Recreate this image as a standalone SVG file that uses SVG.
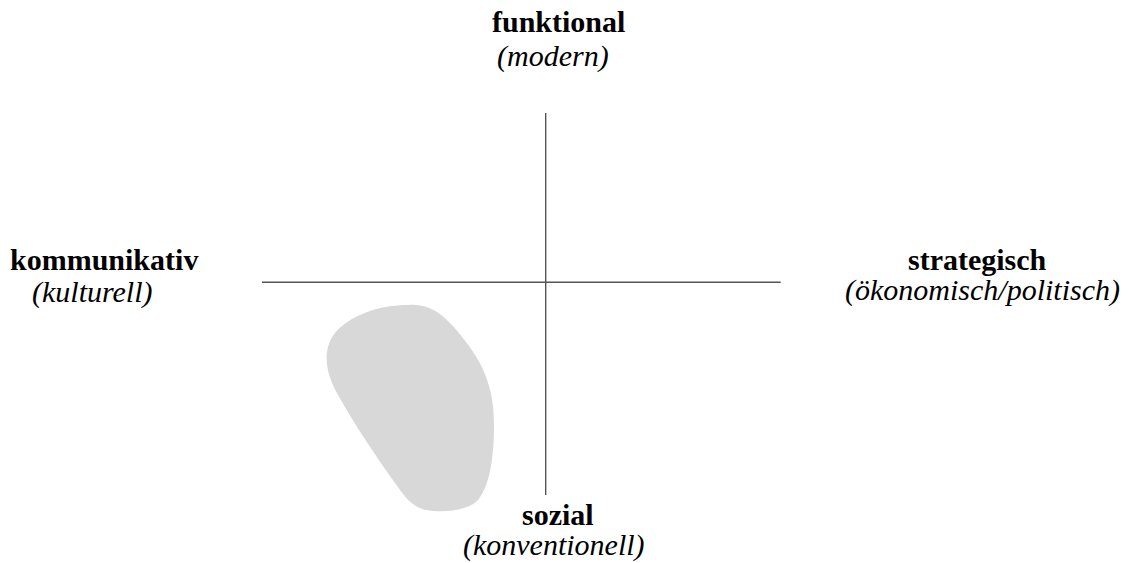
<svg xmlns="http://www.w3.org/2000/svg" width="1129" height="563" viewBox="0 0 1129 563">
<style>
text{font-family:'Liberation Serif','Times New Roman',Tinos,'DejaVu Serif',serif;font-size:30px;fill:#000}
.b{font-weight:bold}
.i{font-style:italic}
.ax{stroke:#555;stroke-width:1.4;fill:none}
</style>
<rect width="1129" height="563" fill="#fff"/>
<g id="blob">
<path d="M 408 305 C 432 303, 447 317, 466 342 C 486 368, 494 392, 494 425 C 494 460, 489 488, 477 501 C 466 511, 442 513, 426 510 C 412 507, 405 497, 395 483 C 375 455, 355 425, 338 395 C 325 372, 322 350, 335 333 C 350 315, 380 305, 408 305 Z" fill="#d8d8d8"/>
</g>
<g id="connectors">
<line class="ax" x1="262" y1="282.3" x2="780.7" y2="282.3"/>
<line class="ax" x1="545.7" y1="113" x2="545.7" y2="495"/>
</g>
<g id="top">
<text class="b" x="492" y="32" font-family="Liberation Serif">funktional</text>
<text class="i" x="497" y="66" font-family="Liberation Serif">(modern)</text>
</g>
<g id="left">
<text class="b" x="10" y="270" font-family="Liberation Serif">kommunikativ</text>
<text class="i" x="32" y="302" font-family="Liberation Serif">(kulturell)</text>
</g>
<g id="right">
<text class="b" x="908" y="270" font-family="Liberation Serif">strategisch</text>
<text class="i" x="845" y="300" font-family="Liberation Serif">(ökonomisch/politisch)</text>
</g>
<g id="bottom">
<text class="b" x="522" y="525" font-family="Liberation Serif">sozial</text>
<text class="i" x="463" y="555" font-family="Liberation Serif">(konventionell)</text>
</g>
</svg>
